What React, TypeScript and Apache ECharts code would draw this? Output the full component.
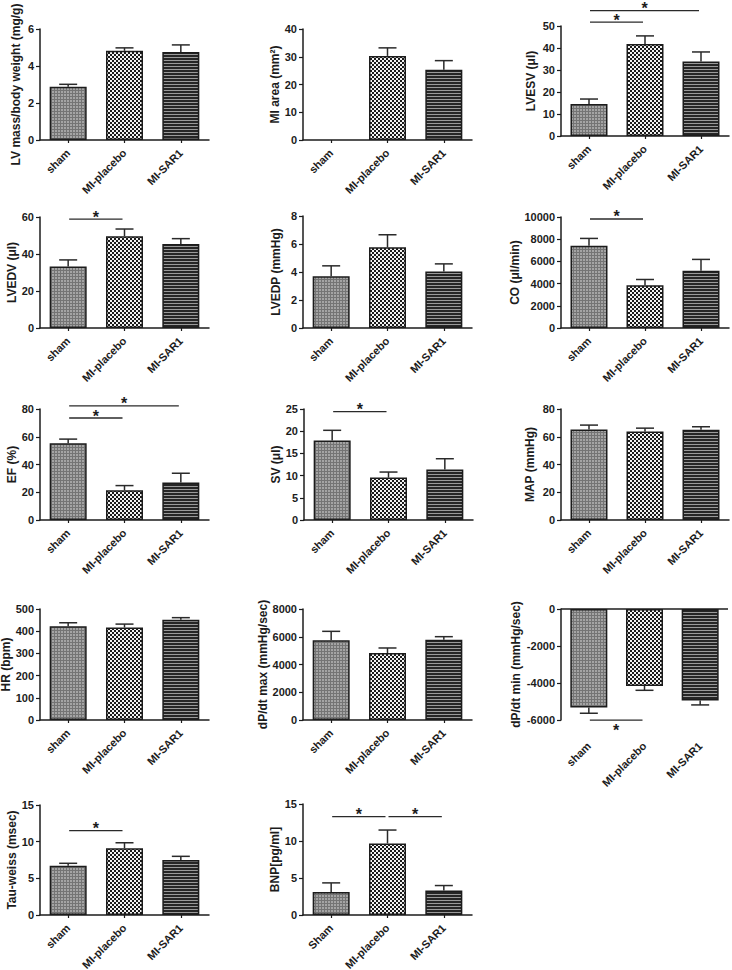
import React, { useEffect, useRef } from "react";
import * as echarts from "echarts";

// ---------- data ----------
const groups = ["sham", "MI-placebo", "MI-SAR1"];
const groupsBNP = ["Sham", "MI-placebo", "MI-SAR1"];

const lvMassMean = [2.88, 4.82, 4.76];
const lvMassSem = [0.13, 0.16, 0.38];

const miAreaMean = [0, 30.3, 25.3];
const miAreaSem = [0, 2.9, 3.3];

const lvesvMean = [14.6, 41.8, 33.9];
const lvesvSem = [2.2, 3.7, 4.3];
const lvesvSig = [[0, 1, 51.8], [0, 2, 57.0]];

const lvedvMean = [33.2, 49.6, 45.4];
const lvedvSem = [3.6, 3.9, 2.9];
const lvedvSig = [[0, 1, 58.8]];

const lvedpMean = [3.7, 5.76, 4.04];
const lvedpSem = [0.74, 0.9, 0.54];

const coMean = [7400, 3860, 5150];
const coSem = [670, 510, 1030];
const coSig = [[0, 1, 9820]];

const efMean = [55.4, 21.5, 27.0];
const efSem = [2.9, 3.3, 6.7];
const efSig = [[0, 1, 73.5], [0, 2, 82.2]];

const svMean = [17.9, 9.55, 11.4];
const svSem = [2.3, 1.25, 2.4];
const svSig = [[0, 1, 24.4]];

const mapMean = [65.2, 63.8, 65.0];
const mapSem = [3.2, 2.4, 2.2];

const hrMean = [422, 417, 452];
const hrSem = [16, 15, 9];

const dpMaxMean = [5740, 4830, 5790];
const dpMaxSem = [650, 360, 215];

const dpMinMean = [-5330, -4160, -4950];
const dpMinSem = [305, 235, 235];
const dpMinSig = [[0, 1, -6010]];

const tauMean = [6.7, 9.1, 7.5];
const tauSem = [0.35, 0.75, 0.5];
const tauSig = [[0, 1, 11.5]];

const bnpMean = [3.12, 9.67, 3.3];
const bnpSem = [1.22, 1.81, 0.68];
const bnpSig = [[0, 1, 13.3], [1, 2, 13.3]];

// ---------- layout / style ----------
const FONT = '"Liberation Sans", Arial, Helvetica, sans-serif';
const INK = "#1c1c1c";

type Panel = {
  name: string;
  cats: string[];
  mean: number[];
  sem: number[];
  sig: number[][];
  min: number;
  max: number;
  interval: number;
  left: number;
  top: number;
  width: number;
  height: number;
  nameGap: number;
  neg?: boolean;
};

const panels: Panel[] = [
  { name: "LV mass/body weight (mg/g)", cats: groups, mean: lvMassMean, sem: lvMassSem, sig: [], min: 0, max: 6, interval: 2, left: 40, top: 29, width: 169, height: 111, nameGap: 18 },
  { name: "MI area (mm²)", cats: groups, mean: miAreaMean, sem: miAreaSem, sig: [], min: 0, max: 40, interval: 10, left: 303, top: 29, width: 169, height: 111, nameGap: 21 },
  { name: "LVESV (μl)", cats: groups, mean: lvesvMean, sem: lvesvSem, sig: lvesvSig, min: 0, max: 50, interval: 10, left: 561, top: 26, width: 168, height: 110, nameGap: 24 },
  { name: "LVEDV (μl)", cats: groups, mean: lvedvMean, sem: lvedvSem, sig: lvedvSig, min: 0, max: 60, interval: 20, left: 40, top: 217, width: 169, height: 111, nameGap: 19 },
  { name: "LVEDP (mmHg)", cats: groups, mean: lvedpMean, sem: lvedpSem, sig: [], min: 0, max: 8, interval: 2, left: 303, top: 216, width: 169, height: 112, nameGap: 21 },
  { name: "CO (μl/min)", cats: groups, mean: coMean, sem: coSem, sig: coSig, min: 0, max: 10000, interval: 2000, left: 561, top: 217, width: 168, height: 111, nameGap: 35 },
  { name: "EF (%)", cats: groups, mean: efMean, sem: efSem, sig: efSig, min: 0, max: 80, interval: 20, left: 40, top: 409, width: 169, height: 111, nameGap: 21 },
  { name: "SV (μl)", cats: groups, mean: svMean, sem: svSem, sig: svSig, min: 0, max: 25, interval: 5, left: 304, top: 409, width: 169, height: 111, nameGap: 22 },
  { name: "MAP (mmHg)", cats: groups, mean: mapMean, sem: mapSem, sig: [], min: 0, max: 80, interval: 20, left: 561, top: 409, width: 168, height: 111, nameGap: 25 },
  { name: "HR (bpm)", cats: groups, mean: hrMean, sem: hrSem, sig: [], min: 0, max: 500, interval: 100, left: 40, top: 609, width: 169, height: 111, nameGap: 28 },
  { name: "dP/dt max (mmHg/sec)", cats: groups, mean: dpMaxMean, sem: dpMaxSem, sig: [], min: 0, max: 8000, interval: 2000, left: 303, top: 609, width: 169, height: 111, nameGap: 30 },
  { name: "dP/dt min (mmHg/sec)", cats: groups, mean: dpMinMean, sem: dpMinSem, sig: dpMinSig, min: -6000, max: 0, interval: 2000, left: 561, top: 609, width: 167, height: 111, nameGap: 39, neg: true },
  { name: "Tau-weiss (msec)", cats: groups, mean: tauMean, sem: tauSem, sig: tauSig, min: 0, max: 15, interval: 5, left: 40, top: 805, width: 169, height: 110, nameGap: 21 },
  { name: "BNP[pg/ml]", cats: groupsBNP, mean: bnpMean, sem: bnpSem, sig: bnpSig, min: 0, max: 15, interval: 5, left: 303, top: 804, width: 169, height: 111, nameGap: 21 },
];

function makeTile(w: number, h: number, pick: (x: number, y: number) => string) {
  const c = document.createElement("canvas");
  c.width = w;
  c.height = h;
  const ctx = c.getContext("2d")!;
  for (let y = 0; y < h; y++) {
    for (let x = 0; x < w; x++) {
      ctx.fillStyle = pick(x, y);
      ctx.fillRect(x, y, 1, 1);
    }
  }
  return { image: c.toDataURL(), repeat: "repeat", imageWidth: w, imageHeight: h } as any;
}

function buildOption() {
  const patterns = [
    makeTile(3, 3, (x, y) => (x === 0 || y === 0 ? "#747474" : "#a4a4a4")),
    makeTile(4, 4, (x, y) => ((Math.floor(x / 2) + Math.floor(y / 2)) % 2 === 0 ? "#1a1a1a" : "#f2f2f2")),
    makeTile(4, 3, (_x, y) => (y === 0 ? "#9a9a9a" : "#262626")),
  ];

  const grid: any[] = [];
  const xAxis: any[] = [];
  const yAxis: any[] = [];
  const series: any[] = [];
  const lineStyle = { color: INK, width: 1.5 };
  const labelStyle = { fontFamily: FONT, fontWeight: "bold", fontSize: 11, color: INK };

  panels.forEach((p, i) => {
    grid.push({ left: p.left, top: p.top, width: p.width, height: p.height, outerBoundsMode: "none", containLabel: false });
    xAxis.push({
      type: "category",
      gridIndex: i,
      data: p.cats,
      axisLine: { show: !p.neg, onZero: false, lineStyle },
      axisTick: { show: !p.neg, alignWithLabel: true, length: 3, lineStyle: { color: INK, width: 1.2 } },
      axisLabel: { ...labelStyle, rotate: 45, interval: 0, margin: p.neg ? 24 : 11 },
      splitLine: { show: false },
    });
    yAxis.push({
      type: "value",
      gridIndex: i,
      min: p.min,
      max: p.max,
      interval: p.interval,
      name: p.name,
      nameLocation: "middle",
      nameGap: p.nameGap,
      nameTextStyle: { fontFamily: FONT, fontWeight: "bold", fontSize: 12, color: INK },
      axisLine: { show: true, lineStyle },
      axisTick: { show: true, length: 4, lineStyle: { color: INK, width: 1.2 } },
      axisLabel: { ...labelStyle, margin: 6, formatter: (v: number) => String(v) },
      splitLine: { show: false },
    });

    const bar: any = {
      type: "bar",
      xAxisIndex: i,
      yAxisIndex: i,
      barWidth: 37,
      z: 3,
      data: p.mean.map((v, j) => ({
        value: v,
        itemStyle: { color: patterns[j], borderColor: INK, borderWidth: v === 0 ? 0 : 1.5 },
      })),
    };
    if (p.neg) {
      bar.markLine = {
        silent: true,
        symbol: ["none", "none"],
        label: { show: false },
        lineStyle: { color: INK, width: 1.5, type: "solid" },
        data: [{ yAxis: 0 }],
      };
    }
    series.push(bar);

    series.push({
      type: "custom",
      xAxisIndex: i,
      yAxisIndex: i,
      z: 2,
      clip: false,
      data: p.mean.map((m, j) => [j, m, p.sem[j]]),
      renderItem: (_params: any, api: any) => {
        const j = api.value(0);
        const m = api.value(1);
        const e = api.value(2);
        if (!e) return { type: "group", children: [] };
        const end = m < 0 ? m - e : m + e;
        const a = api.coord([j, m]);
        const b = api.coord([j, end]);
        const cap = 9;
        const st = { stroke: "#2a2a2a", lineWidth: 1.5 };
        return {
          type: "group",
          children: [
            { type: "line", shape: { x1: a[0], y1: a[1], x2: b[0], y2: b[1] }, style: st },
            { type: "line", shape: { x1: b[0] - cap, y1: b[1], x2: b[0] + cap, y2: b[1] }, style: st },
          ],
        };
      },
    });

    if (p.sig.length) {
      series.push({
        type: "custom",
        xAxisIndex: i,
        yAxisIndex: i,
        z: 4,
        clip: false,
        data: p.sig.map((s) => [s[0], s[1], s[2], p.neg ? 1 : 0]),
        renderItem: (_params: any, api: any) => {
          const a = api.coord([api.value(0), api.value(2)]);
          const b = api.coord([api.value(1), api.value(2)]);
          const below = api.value(3) === 1;
          const x1 = a[0] + 1;
          const x2 = b[0] - 2;
          const mx = (x1 + x2) / 2;
          return {
            type: "group",
            children: [
              { type: "line", shape: { x1, y1: a[1], x2, y2: b[1] }, style: { stroke: "#2a2a2a", lineWidth: 1.3 } },
              {
                type: "text",
                x: mx,
                y: below ? a[1] + 2 : a[1] - 10,
                style: { text: "*", font: `bold 16px ${FONT}`, fill: INK, align: "center", verticalAlign: "top" },
              },
            ],
          };
        },
      });
    }
  });

  return { animation: false, backgroundColor: "#ffffff", grid, xAxis, yAxis, series };
}

export default function App() {
  const ref = useRef<HTMLDivElement>(null);
  useEffect(() => {
    if (!ref.current) return;
    const chart = echarts.init(ref.current, null, { renderer: "svg", width: 732, height: 970 });
    chart.setOption(buildOption() as any);
    return () => chart.dispose();
  }, []);
  return (
    <div
      ref={ref}
      style={{ position: "absolute", left: 0, top: 0, width: 732, height: 970, background: "#fff" }}
    />
  );
}
